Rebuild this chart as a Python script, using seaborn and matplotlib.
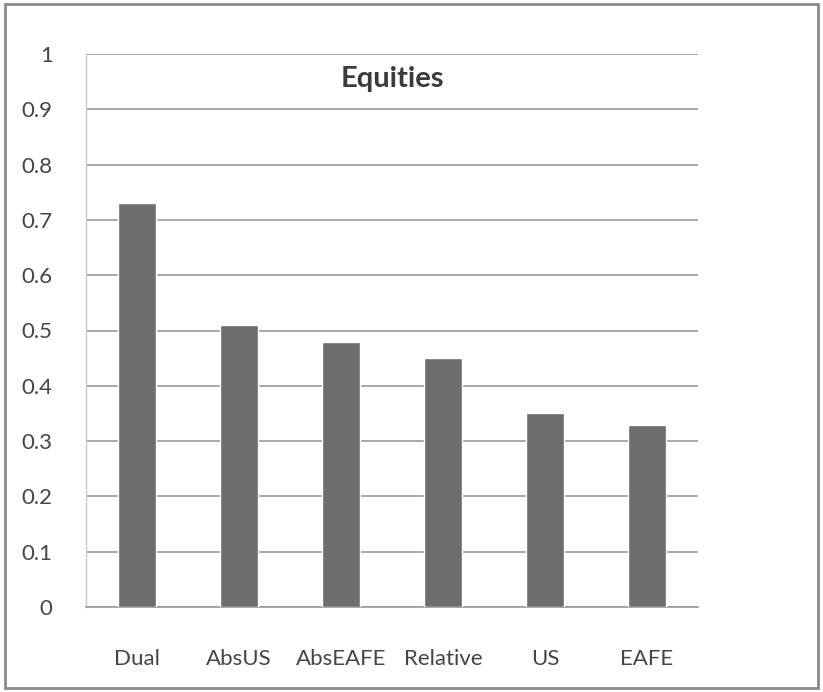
import matplotlib
matplotlib.use("Agg")
import matplotlib.pyplot as plt
import seaborn as sns
import pandas as pd
from matplotlib.patches import Rectangle

# Hit ratio for each equity strategy
strategies = ["Dual", "AbsUS", "AbsEAFE", "Relative", "US", "EAFE"]
values = [0.73, 0.51, 0.48, 0.45, 0.35, 0.33]
y_ticks = [0, 0.1, 0.2, 0.3, 0.4, 0.5, 0.6, 0.7, 0.8, 0.9, 1]
y_tick_labels = ["0", "0.1", "0.2", "0.3", "0.4", "0.5", "0.6", "0.7", "0.8", "0.9", "1"]

df = pd.DataFrame({"strategy": strategies, "value": values})

sns.set_theme(style="white")
plt.rcParams["font.family"] = ["Lato", "DejaVu Sans"]

fig = plt.figure(figsize=(8.23, 6.92), dpi=100)
ax = fig.add_axes([86 / 823, 1 - 607 / 692, 612 / 823, 553 / 692])

sns.barplot(data=df, x="strategy", y="value", color="#6d6d6d", width=0.38,
            saturation=1, ax=ax, zorder=3)

ax.set_ylim(0, 1)
ax.set_xlim(-0.5, len(strategies) - 0.5)
ax.set_yticks(y_ticks)
ax.set_yticklabels(y_tick_labels)
ax.yaxis.grid(True, color="#9a9a9a", linewidth=1.2, zorder=0)
ax.set_axisbelow(True)
ax.set_xlabel("")
ax.set_ylabel("")

for side in ["top", "right"]:
    ax.spines[side].set_visible(False)
ax.spines["left"].set_color("#c8c8c8")
ax.spines["left"].set_linewidth(1.0)
ax.spines["bottom"].set_color("#9a9a9a")
ax.spines["bottom"].set_linewidth(1.2)

ax.tick_params(axis="y", length=0, pad=24, labelsize=16, labelcolor="#454545")
ax.tick_params(axis="x", length=0, pad=30, labelsize=16, labelcolor="#454545")

ax.text(0.5, 0.955, "Equities", transform=ax.transAxes, ha="center", va="center",
        fontsize=21, fontweight="bold", color="#3a3a3a")

# Frame around the whole chart
fig.patches.append(Rectangle((5 / 823, 4 / 692), 813 / 823, 684 / 692,
                             transform=fig.transFigure, fill=False,
                             edgecolor="#8a8a8a", linewidth=2))

fig.savefig("out.png", dpi=100)
